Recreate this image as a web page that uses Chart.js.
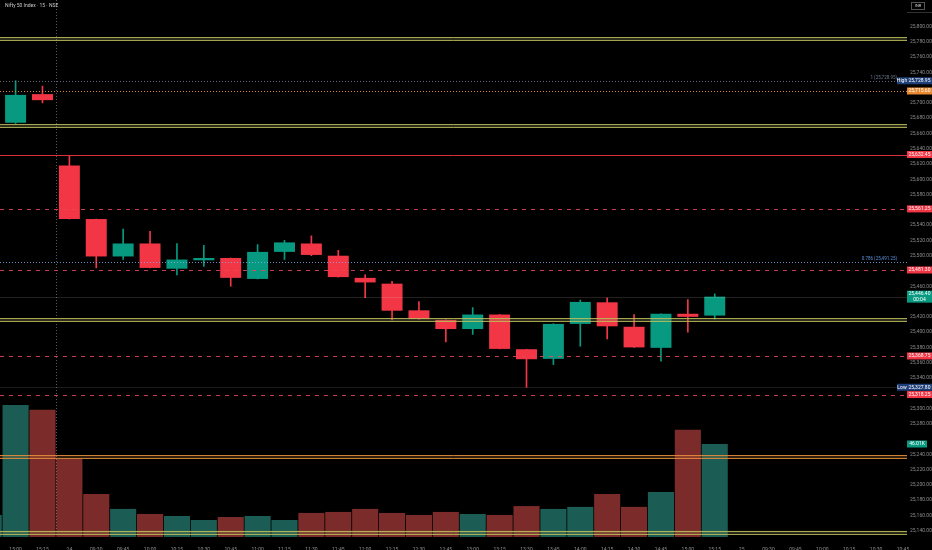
<!DOCTYPE html>
<html>
<head>
<meta charset="utf-8">
<title>Nifty 50 Index · 15 · NSE</title>
<script src="https://cdn.jsdelivr.net/npm/chart.js@4.4.1/dist/chart.umd.min.js"></script>
<style>
  html, body { margin: 0; padding: 0; background: #000; }
  #wrap { position: relative; width: 932px; height: 550px; }
</style>
</head>
<body>
<div id="wrap"><canvas id="niftyChart" width="932" height="550"></canvas></div>
<script>
// 15 min bars, index 0 is the bar cut by the left edge
const times = [
    '14:45', '15:00', '15:15', '24', '09:30', '09:45', '10:00', '10:15', '10:30',
    '10:45', '11:00', '11:15', '11:30', '11:45', '12:00', '12:15', '12:30', '12:45',
    '13:00', '13:15', '13:30', '13:45', '14:00', '14:15', '14:30', '14:45', '15:00',
    '15:15', '25', '09:30', '09:45', '10:00', '10:15', '10:30', '10:45'
];

const opens = [
    null, 25674, 25711.5, 25618, 25548, 25499, 25516, 25483, 25494, 25497,
    25469.6, 25505, 25516, 25500, 25471, 25463.4, 25428.5, 25416, 25404, 25423,
    25377.6, 25365, 25410.7, 25439, 25407, 25379.4, 25424, 25421.6
];
const highs = [
    null, 25728.95, 25722, 25631, 25548, 25535, 25532, 25516, 25513.5, 25497,
    25514.5, 25520, 25526, 25507, 25475, 25466.5, 25440, 25416, 25432, 25423,
    25377.6, 25411, 25442, 25444.7, 25423, 25424, 25442.5, 25450
];
const lows = [
    null, 25673, 25700, 25548, 25484, 25495, 25484, 25475, 25486, 25460,
    25469.6, 25495, 25500, 25472, 25445, 25416, 25417, 25387, 25397, 25378,
    25327.8, 25357.5, 25381.5, 25391, 25380, 25362, 25400, 25417
];
const closes = [
    null, 25710.5, 25703.6, 25548, 25499, 25516, 25484, 25495, 25497, 25471,
    25505, 25517.4, 25501, 25472, 25465, 25428, 25417, 25404, 25423, 25378,
    25364.5, 25410.7, 25439.5, 25407.6, 25380, 25424, 25420, 25446.4
];
const volumes = [
    10900, 65300, 62900, 38600, 21300, 13900, 11400, 10400, 8400, 9900,
    10400, 8400, 11900, 12400, 13900, 11900, 10900, 12400, 11400, 10900,
    15300, 13900, 14900, 21300, 14900, 22300, 53000, 46010
];

// drawn levels
const bandLevels = [25784, 25670, 25416, 25237, 25138];
const solidLevels = [25632.45];
const dashedLevels = [25561.25, 25481.30, 25368.75, 25318.25];
const fibRatios = ['1', '0.786'];
const fibPrices = [25728.95, 25491.25];
const prevClose = 25715.60;
const dayHigh = 25728.95;
const dayLow = 25327.80;
const lastPrice = 25446.40;
const sessionBreaks = [2.5];

const UP = '#089981';
const DOWN = '#f23645';
const VOL_UP = '#1b5d54';
const VOL_DOWN = '#7b2c2a';

const fmt = v => v.toLocaleString('en-US', { minimumFractionDigits: 2, maximumFractionDigits: 2 });
const isUp = i => !(closes[i] < opens[i]);

const bodies = [];
const wicks = [];
const vols = [];
for (let i = 0; i < volumes.length; i++) {
    vols.push({ x: i, y: volumes[i] });
    if (opens[i] === null) continue;
    bodies.push({ x: i, y: [opens[i], closes[i]] });
    wicks.push({ x: i, y: [lows[i], highs[i]] });
}

// values that get their own coloured tag on the price scale
const tagged = [dayHigh, prevClose, ...solidLevels, ...dashedLevels, lastPrice, dayLow, 25253.5];

function hLine(ctx, area, py, color, dash, width) {
    ctx.beginPath();
    ctx.setLineDash(dash);
    ctx.strokeStyle = color;
    ctx.lineWidth = width;
    ctx.moveTo(area.left, Math.round(py) + 0.5);
    ctx.lineTo(area.right, Math.round(py) + 0.5);
    ctx.stroke();
}

function tag(ctx, x, py, w, h, bg, lines) {
    ctx.setLineDash([]);
    ctx.fillStyle = bg;
    ctx.fillRect(x, py - h / 2, w, h);
    ctx.fillStyle = '#ffffff';
    ctx.font = '5px Roboto';
    ctx.textAlign = 'center';
    ctx.textBaseline = 'middle';
    const step = h / lines.length;
    lines.forEach((t, k) => ctx.fillText(t, x + w / 2, py - h / 2 + step * (k + 0.5)));
}

const overlay = {
    id: 'overlay',
    afterDatasetsDraw(chart) {
        const { ctx, chartArea: a, scales } = chart;
        const y = scales.y, x = scales.x;
        ctx.save();
        ctx.beginPath();
        ctx.rect(a.left, a.top, a.right - a.left, a.bottom - a.top);
        ctx.clip();

        sessionBreaks.forEach(b => {
            const px = Math.round(x.getPixelForValue(b)) + 0.5;
            ctx.beginPath();
            ctx.setLineDash([1, 2]);
            ctx.strokeStyle = 'rgba(160,160,160,0.55)';
            ctx.lineWidth = 1;
            ctx.moveTo(px, a.top);
            ctx.lineTo(px, a.bottom);
            ctx.stroke();
        });

        hLine(ctx, a, y.getPixelForValue(lastPrice), 'rgba(255,255,255,0.13)', [], 1);
        hLine(ctx, a, y.getPixelForValue(dayLow), 'rgba(255,255,255,0.10)', [], 1);
        hLine(ctx, a, y.getPixelForValue(dayHigh), 'rgba(140,150,170,0.7)', [1, 2], 1);
        hLine(ctx, a, y.getPixelForValue(prevClose), 'rgba(240,150,60,0.9)', [1, 2], 1);
        fibPrices.forEach((p, k) => {
            if (k > 0) hLine(ctx, a, y.getPixelForValue(p), 'rgba(130,175,240,0.8)', [1, 2], 1);
        });

        bandLevels.forEach((c, k) => {
            const orange = k === 3;
            const top = y.getPixelForValue(c + 2);
            const bot = y.getPixelForValue(c - 2);
            ctx.fillStyle = orange ? 'rgba(200,120,50,0.25)' : 'rgba(150,150,90,0.3)';
            ctx.fillRect(a.left, top, a.right - a.left, bot - top);
            const col = orange ? 'rgba(225,140,60,0.9)' : 'rgba(190,190,90,0.85)';
            hLine(ctx, a, top, col, [], 1);
            hLine(ctx, a, bot, col, [], 1);
        });

        solidLevels.forEach(p => hLine(ctx, a, y.getPixelForValue(p), 'rgba(242,54,69,0.9)', [], 1));
        dashedLevels.forEach(p => hLine(ctx, a, y.getPixelForValue(p), 'rgba(235,70,90,0.85)', [4, 5], 1));
        ctx.restore();
    },
    afterDraw(chart) {
        const { ctx, chartArea: a, scales } = chart;
        const y = scales.y, yv = scales.yv;
        const w = chart.width - a.right;
        ctx.save();

        // title
        ctx.fillStyle = '#c9c9c9';
        ctx.font = '5px Roboto';
        ctx.textAlign = 'left';
        ctx.textBaseline = 'middle';
        ctx.fillText('Nifty 50 Index · 15 · NSE', 5, 6);

        // fib texts
        ctx.textAlign = 'right';
        ctx.textBaseline = 'bottom';
        fibPrices.forEach((p, k) => {
            ctx.fillStyle = k === 0 ? 'rgba(120,135,160,0.9)' : '#5b8fd9';
            ctx.font = '4.5px Roboto';
            ctx.fillText(fibRatios[k] + ' (' + fmt(p) + ')', a.right - 10, y.getPixelForValue(p) - 1);
        });

        // currency box
        ctx.strokeStyle = 'rgba(140,140,140,0.6)';
        ctx.lineWidth = 1;
        ctx.strokeRect(911.5, 2.5, 13, 7);
        ctx.fillStyle = '#cfcfcf';
        ctx.font = '4px Roboto';
        ctx.textAlign = 'center';
        ctx.textBaseline = 'middle';
        ctx.fillText('INR', 918, 6);
        ctx.fillStyle = 'rgba(120,120,120,0.4)';
        ctx.fillRect(a.right, 12, w, 1);

        // price scale tags
        tag(ctx, a.right, y.getPixelForValue(dayHigh), w, 7, '#1f3f78', [fmt(dayHigh)]);
        tag(ctx, a.right - 10, y.getPixelForValue(dayHigh), 10, 7, '#1f3f78', ['High']);
        tag(ctx, a.right, y.getPixelForValue(prevClose), w, 7, '#e8892f', [fmt(prevClose)]);
        [...solidLevels, ...dashedLevels].forEach(p => tag(ctx, a.right, y.getPixelForValue(p), w, 7, DOWN, [fmt(p)]));
        tag(ctx, a.right, y.getPixelForValue(lastPrice), w, 12, UP, [fmt(lastPrice), '00:04']);
        tag(ctx, a.right, y.getPixelForValue(dayLow), w, 7, '#1f3f78', [fmt(dayLow)]);
        tag(ctx, a.right - 10, y.getPixelForValue(dayLow), 10, 7, '#1f3f78', ['Low']);
        const lastVol = volumes[volumes.length - 1];
        tag(ctx, a.right, yv.getPixelForValue(lastVol), 20, 7, UP, [(lastVol / 1000).toFixed(2) + 'K']);
        ctx.restore();
    }
};

new Chart(document.getElementById('niftyChart'), {
    type: 'bar',
    data: {
        datasets: [
            {
                label: 'Volume',
                data: vols,
                yAxisID: 'yv',
                grouped: false,
                order: 3,
                barPercentage: 0.97,
                categoryPercentage: 1,
                backgroundColor: ctx => isUp(ctx.raw.x) ? VOL_UP : VOL_DOWN,
                borderWidth: 0
            },
            {
                label: 'Wick',
                data: wicks,
                yAxisID: 'y',
                grouped: false,
                order: 2,
                barThickness: 1,
                backgroundColor: ctx => isUp(ctx.raw.x) ? UP : DOWN,
                borderWidth: 0,
                borderSkipped: false
            },
            {
                label: 'Body',
                data: bodies,
                yAxisID: 'y',
                grouped: false,
                order: 1,
                barPercentage: 0.78,
                categoryPercentage: 1,
                minBarLength: 1.5,
                backgroundColor: ctx => isUp(ctx.raw.x) ? UP : DOWN,
                borderWidth: 0,
                borderSkipped: false
            }
        ]
    },
    options: {
        responsive: false,
        animation: false,
        devicePixelRatio: 1,
        layout: { padding: 0 },
        plugins: {
            legend: { display: false },
            tooltip: { enabled: false },
            title: { display: false }
        },
        scales: {
            x: {
                type: 'linear',
                offset: false,
                min: 0.42,
                max: 34.15,
                grid: { display: false },
                border: { display: false },
                afterFit: s => {
                    s.height = 13;
                    s.paddingLeft = 0;
                    s.paddingRight = 0;
                },
                ticks: {
                    stepSize: 1,
                    includeBounds: false,
                    autoSkip: false,
                    maxRotation: 0,
                    padding: 2,
                    color: '#8c8c8c',
                    font: { size: 5, family: 'Roboto' },
                    callback: v => times[v] ?? ''
                }
            },
            y: {
                type: 'linear',
                position: 'right',
                min: 25131.8,
                max: 25834.7,
                grid: { display: false, drawTicks: false },
                border: { display: false },
                afterFit: s => {
                    s.width = 25;
                    s.paddingTop = 0;
                    s.paddingBottom = 0;
                },
                ticks: {
                    stepSize: 20,
                    includeBounds: false,
                    padding: 3,
                    color: '#8c8c8c',
                    font: { size: 5, family: 'Roboto' },
                    callback: v => {
                        if (v > 25800) return '';
                        if (tagged.some(t => Math.abs(t - v) < 7)) return '';
                        return fmt(v);
                    }
                }
            },
            yv: {
                type: 'linear',
                display: false,
                min: 0,
                max: 265670
            }
        }
    },
    plugins: [overlay]
});
</script>
</body>
</html>
